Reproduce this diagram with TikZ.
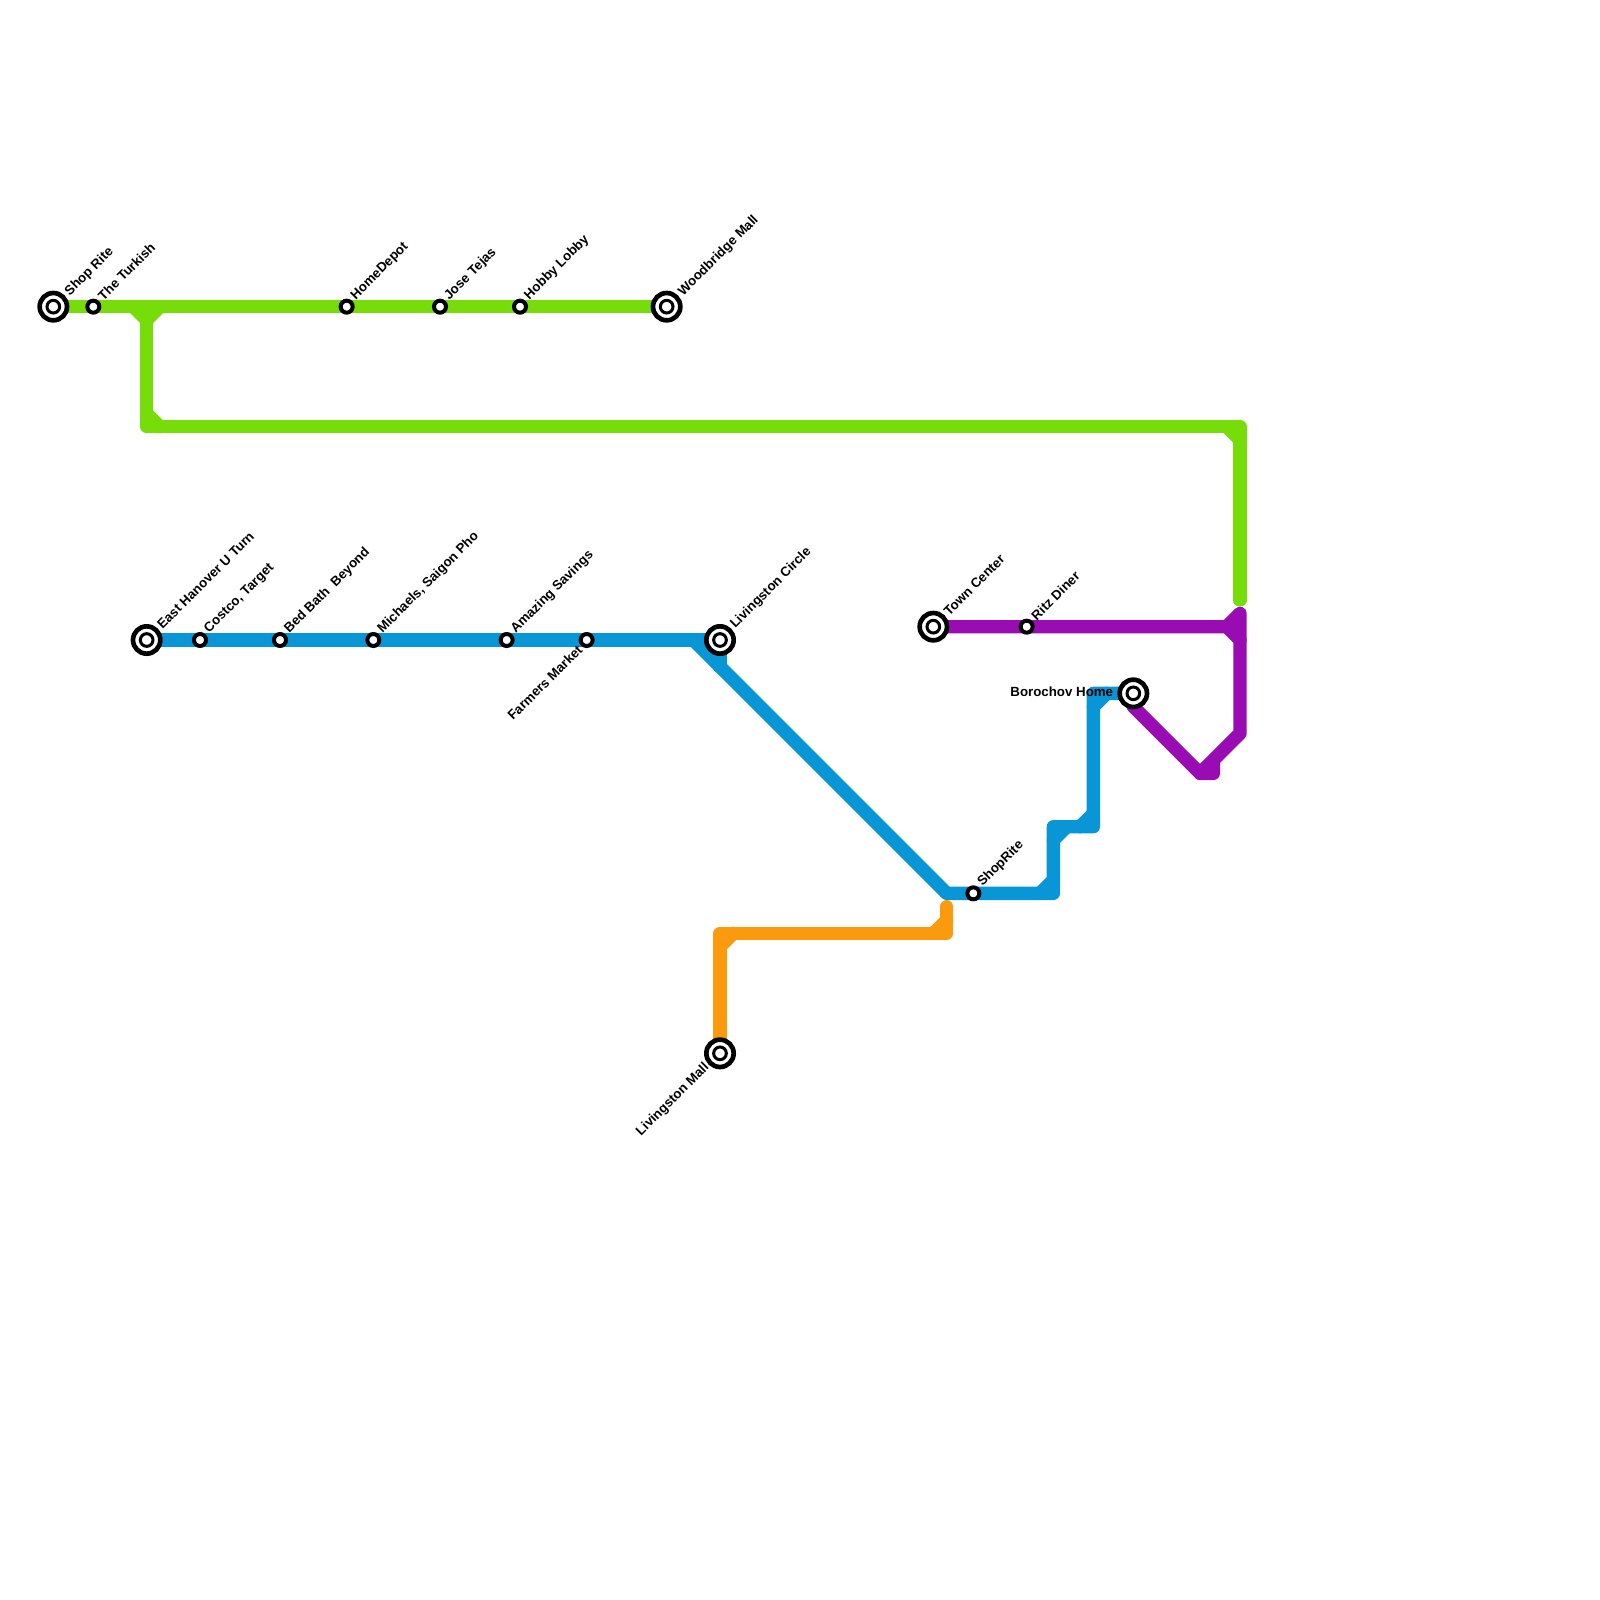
\documentclass[tikz,border=0pt]{standalone}
\usepackage{fontspec}
\setmainfont{Liberation Sans}
\usetikzlibrary{backgrounds}
\definecolor{lime}{HTML}{76DD08}
\definecolor{azure}{HTML}{0896D7}
\definecolor{plum}{HTML}{9A0CB3}
\definecolor{amber}{HTML}{FC9A0E}
\tikzset{
  metroline/.style={line width=0.4cm,line cap=round,line join=round},
  terminal/.style={circle,draw=black,fill=white,line width=0.14cm,minimum size=0.82cm,
    path picture={\draw [black,line width=0.09cm] (path picture bounding box.center) circle (0.19);}},
  halt/.style={circle,draw=black,fill=white,line width=0.12cm,minimum size=0.36cm},
  upname/.style={rotate=45,anchor=west,font=\bfseries\fontsize{11.35}{11.35}\selectfont},
  downname/.style={rotate=45,anchor=east,font=\bfseries\fontsize{11.35}{11.35}\selectfont},
  sidename/.style={anchor=east,font=\bfseries\fontsize{11.35}{11.35}\selectfont}
}
\begin{document}
\begin{tikzpicture}[scale=0.4]
            \tikzstyle{every node}+=[inner sep=0pt]
            \useasboundingbox (0,0) rectangle (120,-120);
            \node [terminal] (shoprite) at (4,-23) {};
            \node [halt] (turkish) at (7,-23) {};
            \node [halt] (homedepot) at (26,-23) {};
            \node [halt] (josetejas) at (33,-23) {};
            \node [halt] (hobbylobby) at (39,-23) {};
            \node [terminal] (woodbridge) at (50,-23) {};
            \node [terminal] (hanover) at (11,-48) {};
            \node [halt] (costco) at (15,-48) {};
            \node [halt] (bedbath) at (21,-48) {};
            \node [halt] (michaels) at (28,-48) {};
            \node [halt] (amazing) at (38,-48) {};
            \node [halt] (farmers) at (44,-48) {};
            \node [terminal] (circle) at (54,-48) {};
            \node [halt] (shoprite2) at (73,-67) {};
            \node [terminal] (borochov) at (85,-52) {};
            \node [terminal] (towncenter) at (70,-47) {};
            \node [halt] (ritz) at (77,-47) {};
            \node [terminal] (livmall) at (54,-79) {};
            \node [upname] (shopritetext) at (5.05,-22.05) {Shop Rite};
            \node [upname] (turkishtext) at (7.5,-22.35) {The Turkish};
            \node [upname] (homedepottext) at (26.5,-22.35) {HomeDepot};
            \node [upname] (josetejastext) at (33.5,-22.35) {Jose Tejas};
            \node [upname] (hobbylobbytext) at (39.5,-22.35) {Hobby Lobby};
            \node [upname] (woodbridgetext) at (51.05,-22.05) {Woodbridge Mall};
            \node [upname] (hanovertext) at (11.95,-47) {East Hanover U Turn};
            \node [upname] (costcotext) at (15.5,-47.35) {Costco, Target};
            \node [upname] (bedbathtext) at (21.5,-47.35) {Bed Bath\ \ Beyond};
            \node [upname] (michaelstext) at (28.5,-47.35) {Michaels, Saigon Pho};
            \node [upname] (amazingtext) at (38.5,-47.35) {Amazing Savings};
            \node [downname] (farmerstext) at (43.5,-48.55) {Farmers Market};
            \node [upname] (circletext) at (54.95,-47) {Livingston Circle};
            \node [upname] (shoprite2text) at (73.5,-66.35) {ShopRite};
            \node [sidename] (borochovtext) at (83.5,-51.9) {Borochov Home};
            \node [upname] (towncentertext) at (70.95,-46) {Town Center};
            \node [upname] (ritztext) at (77.5,-46.35) {Ritz Diner};
            \node [downname] (livmalltext) at (53.05,-79.9) {Livingston Mall};
            \coordinate (gjoin) at (11,-23);
            \coordinate (gleft) at (10,-23);
            \coordinate (gright) at (12,-23);
            \coordinate (gfoot) at (11,-24);
            \coordinate (gturn) at (11,-32);
            \coordinate (gturnin) at (11,-31);
            \coordinate (gturnout) at (12,-32);
            \coordinate (gcorner) at (93,-32);
            \coordinate (gcornerin) at (92,-32);
            \coordinate (gcornerout) at (93,-33);
            \coordinate (gend) at (93,-45);
            \coordinate (bkink) at (52,-48);
            \coordinate (bstub) at (54,-50);
            \coordinate (bfoot) at (71,-67);
            \coordinate (bstepa) at (79,-67);
            \coordinate (bstepain) at (78,-67);
            \coordinate (bstepaout) at (79,-66);
            \coordinate (bstepb) at (79,-62);
            \coordinate (bstepbin) at (79,-63);
            \coordinate (bstepbout) at (80,-62);
            \coordinate (bstepc) at (82,-62);
            \coordinate (bstepcin) at (81,-62);
            \coordinate (bstepcout) at (82,-61);
            \coordinate (bstepd) at (82,-52);
            \coordinate (bstepdin) at (82,-53);
            \coordinate (bstepdout) at (83,-52);
            \coordinate (pstart) at (85,-53);
            \coordinate (plow) at (90,-58);
            \coordinate (plowr) at (91,-58);
            \coordinate (plowt) at (91,-57);
            \coordinate (pelbow) at (93,-55);
            \coordinate (ptop) at (93,-46);
            \coordinate (pjoin) at (92,-47);
            \coordinate (pside) at (93,-48);
            \coordinate (oturn) at (54,-70);
            \coordinate (oturnin) at (54,-71);
            \coordinate (oturnout) at (55,-70);
            \coordinate (ocorner) at (71,-70);
            \coordinate (ocornerin) at (70,-70);
            \coordinate (ocornerout) at (71,-69);
            \coordinate (otop) at (71,-68);
            \begin{scope}[on background layer]
            \draw [metroline,amber] (livmall.center) -- (oturn) -- (ocorner) -- (otop);
            \draw [metroline,amber] (oturnin) -- (oturnout);
            \draw [metroline,amber] (ocornerin) -- (ocornerout);
            \draw [metroline,plum] (towncenter.center) -- (ritz.center) -- (pjoin) -- (ptop) -- (pelbow) -- (plow) -- (plowr) -- (plowt);
            \draw [metroline,plum] (pjoin) -- (pside);
            \draw [metroline,plum] (pstart) -- (plow);
            \draw [metroline,azure] (hanover.center) -- (costco.center) -- (bedbath.center) -- (michaels.center) -- (amazing.center) -- (farmers.center) -- (circle.center);
            \draw [metroline,azure] (circle.center) -- (bstub);
            \draw [metroline,azure] (bkink) -- (bfoot) -- (shoprite2.center) -- (bstepa) -- (bstepb) -- (bstepc) -- (bstepd) -- (borochov.center);
            \draw [metroline,azure] (bstepain) -- (bstepaout);
            \draw [metroline,azure] (bstepbin) -- (bstepbout);
            \draw [metroline,azure] (bstepcin) -- (bstepcout);
            \draw [metroline,azure] (bstepdin) -- (bstepdout);
            \draw [metroline,lime] (shoprite.center) -- (turkish.center) -- (homedepot.center) -- (josetejas.center) -- (hobbylobby.center) -- (woodbridge.center);
            \draw [metroline,lime] (gjoin) -- (gturn) -- (gcorner) -- (gend);
            \draw [metroline,lime] (gleft) -- (gfoot) -- (gright);
            \draw [metroline,lime] (gturnin) -- (gturnout);
            \draw [metroline,lime] (gcornerin) -- (gcornerout);
            \end{scope}
\end{tikzpicture}
\end{document}
